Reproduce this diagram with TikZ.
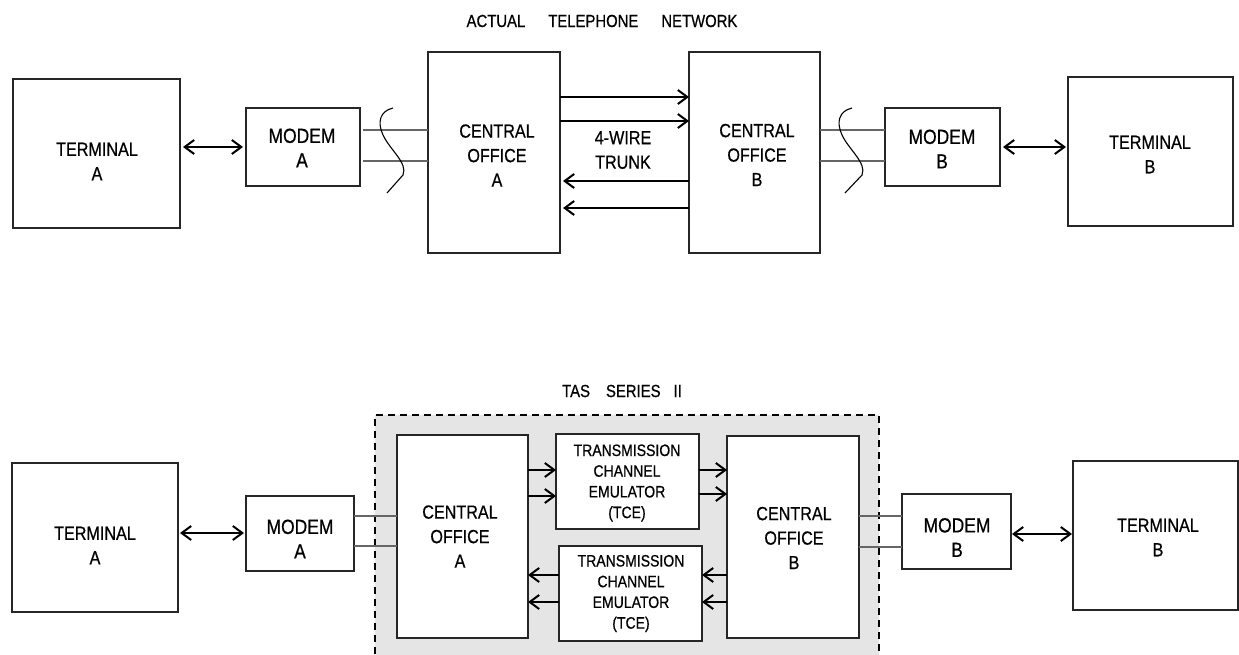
\documentclass[tikz,border=0pt]{standalone}
\usepackage{fontspec}
\setmainfont{Liberation Sans}[FakeStretch=0.85, FakeBold=0.6]
\usetikzlibrary{arrows.meta}
\tikzset{
  box/.style={draw=black!85, line width=1.2pt, fill=white, inner sep=0pt, outer sep=0pt},
  txt/.style={align=center, font=\fontsize{19}{24.5}\selectfont, inner sep=0pt},
  modemtxt/.style={align=center, font=\fontsize{20.5}{24.5}\selectfont, inner sep=0pt},
  smalltxt/.style={align=center, font=\fontsize{16.5}{20.7}\selectfont, inner sep=0pt},
  titletxt/.style={font=\fontsize{17.5}{20}\selectfont, inner sep=0pt},
  tip/.tip={Straight Barb[length=9.5pt,width=14pt]},
  arr/.style={line width=2pt, -tip},
  darr/.style={line width=2pt, tip-tip},
  wire/.style={draw=black!60, line width=1.2pt},
  wave/.style={line width=1.1pt},
  tasbox/.style={draw=black, line width=2pt, dash pattern=on 7pt off 5pt, fill=black!10, inner sep=0pt, outer sep=0pt}
}
\begin{document}
\begin{tikzpicture}[x=1pt,y=-1pt]
\useasboundingbox (0,0) rectangle (1239,655);
\clip (0,0) rectangle (1239,655);

% ---------------- top: actual telephone network ----------------
\node[titletxt] (title1) at (602,21) {ACTUAL\hspace{23pt}TELEPHONE\hspace{23pt}NETWORK};

\node[box, minimum width=167pt, minimum height=149pt] (tA) at (96.5,153.5) {};
\node[txt] (tAt) at (97,161.5) {TERMINAL\\A};
\node[box, minimum width=114pt, minimum height=78pt] (mA) at (303,147) {};
\node[modemtxt] (mAt) at (302,148) {MODEM\\A};
\node[box, minimum width=132pt, minimum height=201pt] (coA) at (494,152.5) {};
\node[txt] (coAt) at (497,155.5) {CENTRAL\\OFFICE\\A};
\node[box, minimum width=131pt, minimum height=201pt] (coB) at (754.5,152.5) {};
\node[txt] (coBt) at (757,155) {CENTRAL\\OFFICE\\B};
\node[box, minimum width=115pt, minimum height=78pt] (mB) at (942.5,147) {};
\node[modemtxt] (mBt) at (942,149) {MODEM\\B};
\node[box, minimum width=165pt, minimum height=149pt] (tB) at (1150.5,151.5) {};
\node[txt] (tBt) at (1150,154.5) {TERMINAL\\B};
\node[txt] (trunk) at (623,150) {4-WIRE\\TRUNK};

\draw[darr, shorten <=3pt, shorten >=3pt] (tA.east |- 0,147) -- (mA.west |- 0,147);
\draw[darr, shorten <=3pt, shorten >=2pt] (mB.east |- 0,147) -- (tB.west |- 0,147);

\draw[wire, shorten <=3pt] (mA.east |- 0,130) -- (coA.west |- 0,130);
\draw[wire, shorten <=3pt] (mA.east |- 0,161) -- (coA.west |- 0,161);
\draw[wire] (coB.east |- 0,130) -- (mB.west |- 0,130);
\draw[wire] (coB.east |- 0,161) -- (mB.west |- 0,161);

\draw[wave] (393,108) .. controls (380,111) and (377,122) .. (383,135)
  .. controls (390,150) and (408,163) .. (403,175) -- (387,193);
\draw[wave] (852,108) .. controls (839,111) and (836,122) .. (842,135)
  .. controls (849,150) and (867,163) .. (862,175) -- (845,193);

\draw[arr] (coA.east |- 0,97) -- (coB.west |- 0,97);
\draw[arr] (coA.east |- 0,121) -- (coB.west |- 0,121);
\draw[arr, shorten >=3pt] (coB.west |- 0,181) -- (coA.east |- 0,181);
\draw[arr, shorten >=3pt] (coB.west |- 0,208) -- (coA.east |- 0,208);

% ---------------- bottom: TAS series II ----------------
\node[titletxt] (title2) at (622,391) {TAS\hspace{16pt}SERIES\hspace{13pt}II};
\node[tasbox, minimum width=504pt, minimum height=260pt] (tas) at (627,545) {};

\node[box, minimum width=166pt, minimum height=149pt] (tA2) at (95,537.5) {};
\node[txt] (tA2t) at (95,545.5) {TERMINAL\\A};
\node[box, minimum width=108pt, minimum height=75pt] (mA2) at (300,533.5) {};
\node[modemtxt] (mA2t) at (300,539) {MODEM\\A};
\node[box, minimum width=131pt, minimum height=203pt] (coA2) at (462.5,536.5) {};
\node[txt] (coA2t) at (460,536.5) {CENTRAL\\OFFICE\\A};
\node[box, minimum width=143pt, minimum height=95pt] (tce1) at (627.5,481.5) {};
\node[smalltxt] (tce1t) at (627,483) {TRANSMISSION\\CHANNEL\\EMULATOR\\(TCE)};
\node[box, minimum width=143pt, minimum height=95pt] (tce2) at (630.5,593.5) {};
\node[smalltxt] (tce2t) at (631,593.5) {TRANSMISSION\\CHANNEL\\EMULATOR\\(TCE)};
\node[box, minimum width=132pt, minimum height=202pt] (coB2) at (793,537) {};
\node[txt] (coB2t) at (794,538) {CENTRAL\\OFFICE\\B};
\node[box, minimum width=109pt, minimum height=75pt] (mB2) at (956.5,531.5) {};
\node[modemtxt] (mB2t) at (957,537.5) {MODEM\\B};
\node[box, minimum width=165pt, minimum height=149pt] (tB2) at (1155.5,535.5) {};
\node[txt] (tB2t) at (1158,537.5) {TERMINAL\\B};

\draw[darr, shorten <=2pt, shorten >=2pt] (tA2.east |- 0,533) -- (mA2.west |- 0,533);
\draw[darr, shorten <=1pt, shorten >=1pt] (mB2.east |- 0,534) -- (tB2.west |- 0,534);

\draw[wire] (mA2.east |- 0,516) -- (coA2.west |- 0,516);
\draw[wire] (mA2.east |- 0,546) -- (coA2.west |- 0,546);
\draw[wire] (coB2.east |- 0,516) -- (mB2.west |- 0,516);
\draw[wire] (coB2.east |- 0,547) -- (mB2.west |- 0,547);

\draw[arr] (coA2.east |- 0,470) -- (tce1.west |- 0,470);
\draw[arr] (coA2.east |- 0,496) -- (tce1.west |- 0,496);
\draw[arr] (tce1.east |- 0,470) -- (coB2.west |- 0,470);
\draw[arr] (tce1.east |- 0,494) -- (coB2.west |- 0,494);
\draw[arr] (coB2.west |- 0,575) -- (tce2.east |- 0,575);
\draw[arr] (coB2.west |- 0,602) -- (tce2.east |- 0,602);
\draw[arr] (tce2.west |- 0,575) -- (coA2.east |- 0,575);
\draw[arr] (tce2.west |- 0,602) -- (coA2.east |- 0,602);
\end{tikzpicture}
\end{document}
